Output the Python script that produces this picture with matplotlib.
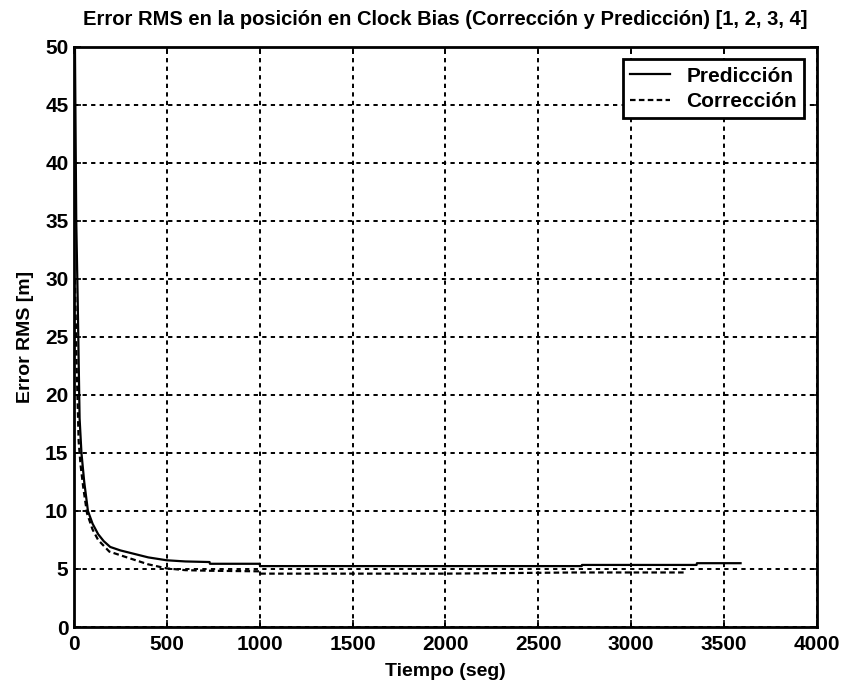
import matplotlib
matplotlib.use("Agg")
from matplotlib import pyplot as plt

plt.rcParams['font.family'] = ['Liberation Sans', 'DejaVu Sans']

# Prediccion (solid) - tiempo [s], error RMS [m]
t_pred = [0, 5, 12, 20, 30, 40, 55, 75, 100, 130, 160, 195, 250, 300, 400, 500, 600, 730,
          732, 1000, 1002, 2734, 2736, 3353, 3355, 3590]
e_pred = [52, 50, 35, 28, 18, 15, 12.5, 10, 8.9, 8.0, 7.4, 6.9, 6.6, 6.4, 6.0, 5.75, 5.65, 5.6,
          5.45, 5.45, 5.25, 5.25, 5.35, 5.35, 5.5, 5.5]

# Correccion (dashed)
t_corr = [5, 15, 25, 35, 50, 70, 100, 130, 190, 285, 400, 500, 600, 730, 1000, 1002, 2000,
          2700, 3300]
e_corr = [30, 22, 16, 14, 12, 9.8, 8.4, 7.5, 6.5, 6.0, 5.4, 5.05, 4.9, 4.85, 4.8, 4.6, 4.6,
          4.7, 4.7]

xticks = [0, 500, 1000, 1500, 2000, 2500, 3000, 3500, 4000]
yticks = [0, 5, 10, 15, 20, 25, 30, 35, 40, 45, 50]

fig = plt.figure(figsize=(8.43, 6.9), dpi=100)
ax = fig.add_axes([0.0878, 0.0913, 0.881, 0.8407])

ax.plot(t_pred, e_pred, color='black', lw=1.6, label='Predicción')
ax.plot(t_corr, e_corr, color='black', lw=1.6, linestyle=(0, (2.5, 1.5)), label='Corrección')

ax.set_xlim(0, 4000)
ax.set_ylim(0, 50)
ax.set_xticks(xticks)
ax.set_yticks(yticks)
ax.tick_params(direction='in', length=5, width=1.2, labelsize=15, top=True, right=True, pad=6)
ax.tick_params(axis='y', pad=4)
for s in ax.spines.values():
    s.set_linewidth(2)
ax.grid(True, color='black', linestyle=(0, (2.2, 2.2)), linewidth=1.4)

ax.set_title('Error RMS en la posición en Clock Bias (Corrección y Predicción) [1, 2, 3, 4]',
             fontsize=14.5, fontweight='bold', pad=16)
ax.set_xlabel('Tiempo (seg)', fontsize=14, fontweight='bold', labelpad=6)
ax.set_ylabel('Error RMS [m]', fontsize=14, fontweight='bold', labelpad=8)

leg = ax.legend(loc='upper right', frameon=True, fancybox=False,
                edgecolor='black', framealpha=1, borderaxespad=0.6, handlelength=1.9,
                borderpad=0.35, labelspacing=0.3, handletextpad=0.8,
                prop={'weight': 'bold', 'size': 15})
leg.get_frame().set_linewidth(2)
for txt in ax.get_xticklabels() + ax.get_yticklabels():
    txt.set_fontweight('bold')

fig.savefig('out.png', dpi=100)
